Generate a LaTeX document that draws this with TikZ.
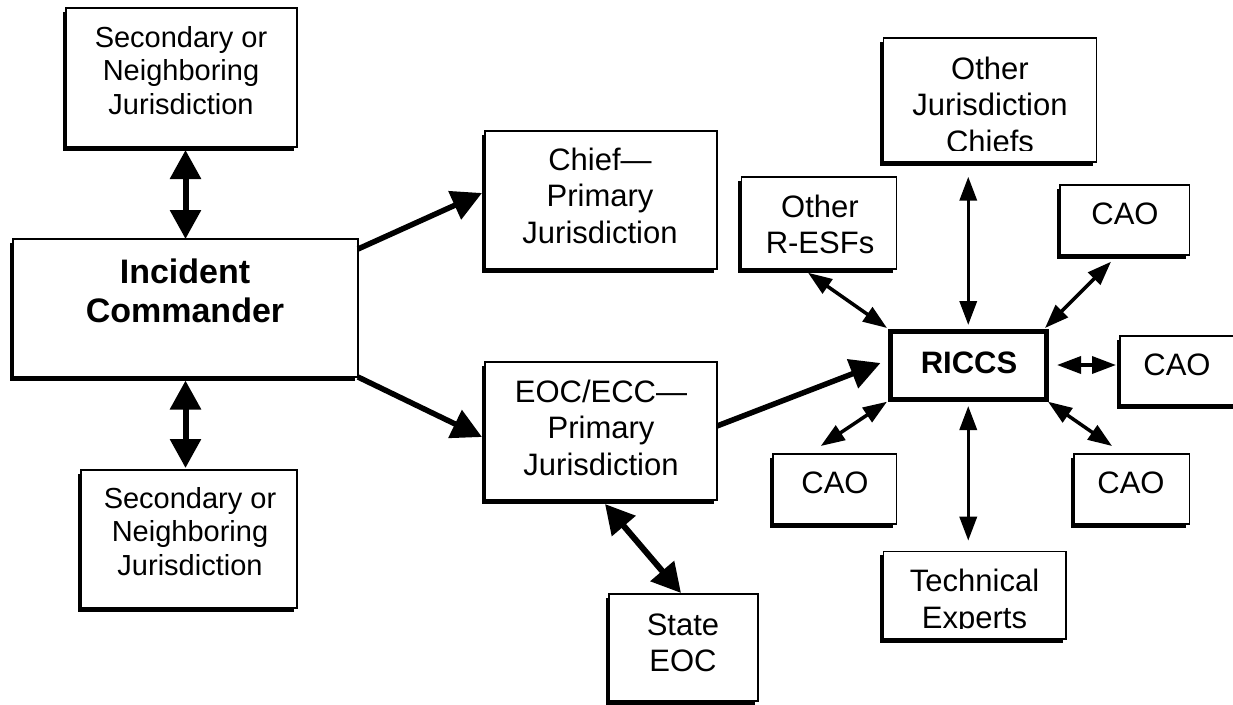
\documentclass[tikz,border=0pt]{standalone}
\usepackage{fontspec}
\setmainfont{Liberation Sans}
\usetikzlibrary{arrows.meta,shadows,calc}
\newcommand{\mlines}[1]{\begin{tabular}[t]{@{}c@{}}#1\end{tabular}}
\begin{document}
\begin{tikzpicture}[x=1pt,y=1pt,
  box/.style={draw=black, line width=1.3pt, fill=white, inner sep=0pt, outer sep=0pt,
    drop shadow={shadow xshift=-3.5pt,shadow yshift=-3.5pt,opacity=1,fill=black}},
  thickbox/.style={draw=black, line width=5pt, fill=white, inner sep=0pt, outer sep=0pt},
  txt/.style={inner sep=0pt, outer sep=0pt, anchor=base},
  fa/.style={font=\fontsize{29}{33.5}\selectfont},
  fb/.style={font=\fontsize{31}{36.7}\selectfont},
  fc/.style={font=\bfseries\fontsize{34}{39}\selectfont},
  fd/.style={font=\bfseries\fontsize{31}{37}\selectfont},
  bigd/.style={line width=6pt, >={Triangle[length=29pt,width=30pt]}, <->},
  bigs/.style={line width=5.5pt, >={Triangle[length=30pt,width=30pt]}, ->},
  sm/.style={line width=3.5pt, >={Triangle[length=24pt,width=17pt]}, <->}
]
\useasboundingbox (0,0) rectangle (1233,-704);
% boxes
\node[box, minimum width=231pt, minimum height=139pt] (secTop) at (181.5,-77.5) {};
\node[box, minimum width=345pt, minimum height=138pt] (ic) at (185.5,-308) {};
\node[box, minimum width=216pt, minimum height=138pt] (secBot) at (189,-539) {};
\node[box, minimum width=232pt, minimum height=138pt] (chief) at (601,-200) {};
\node[box, minimum width=232pt, minimum height=138pt] (eoc) at (601,-431) {};
\node[box, minimum width=149pt, minimum height=107pt] (state) at (683.5,-647.5) {};
\node[box, minimum width=213.5pt, minimum height=124pt] (ojc) at (990,-100) {};
\node[box, minimum width=154.5pt, minimum height=92pt] (resf) at (819,-223) {};
\node[box, minimum width=129.5pt, minimum height=70pt] (cao1) at (1124.75,-220) {};
\node[thickbox, minimum width=155.5pt, minimum height=68pt] (riccs) at (968.25,-365) {};
\node[box, minimum width=118pt, minimum height=69pt] (cao2) at (1179,-370.5) {};
\node[box, minimum width=123.5pt, minimum height=70pt] (cao3) at (834.75,-489) {};
\node[box, minimum width=115.5pt, minimum height=70pt] (cao4) at (1131.75,-489) {};
\node[box, minimum width=182.5pt, minimum height=87.3pt] (tech) at (974.75,-595.35) {};
% texts
\node[txt,fa] (tSecTop) at (181,-47) {\mlines{Secondary or\\Neighboring\\Jurisdiction}};
\node[txt,fc] (tIC) at (185,-283) {\mlines{Incident\\Commander}};
\node[txt,fa] (tSecBot) at (190,-508) {\mlines{Secondary or\\Neighboring\\Jurisdiction}};
\node[txt,fb] (tChief) at (600,-170) {\mlines{Chief—\\Primary\\Jurisdiction}};
\node[txt,fb] (tEOC) at (601,-402) {\mlines{EOC/ECC—\\Primary\\Jurisdiction}};
\node[txt,fb] (tState) at (683,-635) {\mlines{State\\EOC}};
\begin{scope}
  \clip (884,-30) rectangle (1096,-150.5);
  \node[txt,fb] (tOJC) at (990,-79) {\mlines{Other\\Jurisdiction\\Chiefs}};
\end{scope}
\node[txt,fb] (tRESF) at (820,-217) {\mlines{Other\\R-ESFs}};
\node[txt,fb] (tCAO1) at (1125,-224) {CAO};
\node[txt,fd] (tRICCS) at (969,-373) {RICCS};
\node[txt,fb] (tCAO2) at (1177,-375) {CAO};
\node[txt,fb] (tCAO3) at (835,-493) {CAO};
\node[txt,fb] (tCAO4) at (1131,-493) {CAO};
\begin{scope}
  \clip (884,-560) rectangle (1065,-628.8);
  \node[txt,fb] (tTech) at (974.5,-591.7) {\mlines{Technical\\Experts}};
\end{scope}
% connectors
\draw[bigd, shorten <=3pt] (ic.north |- secTop.south) -- (ic.north);
\draw[bigd, shorten <=3.5pt, shorten >=2pt] (ic.south) -- (ic.south |- secBot.north);
\draw[bigs] ([yshift=-10pt]ic.north east) -- ([xshift=-3pt,yshift=7pt]chief.west);
\draw[bigs] (ic.south east) -- ([xshift=-3pt,yshift=-6pt]eoc.west);
\draw[bigs] ([yshift=5pt]eoc.east) -- ([xshift=-10pt,yshift=2pt]riccs.west);
\draw[bigd] ([xshift=4pt,yshift=-4pt]eoc.south) -- ([xshift=-2.5pt,yshift=1pt]state.north);
\draw[sm] ([xshift=-11pt,yshift=-3.7pt]resf.south) -- ([xshift=-3.5pt,yshift=3pt]riccs.north west);
\draw[sm, shorten <=6pt, shorten >=14.7pt] (riccs.north) -- (riccs.north |- ojc.south);
\draw[sm] ([xshift=-13.75pt,yshift=-6.7pt]cao1.south) -- ([xshift=-1pt,yshift=3pt]riccs.north east);
\draw[sm, shorten <=11pt, shorten >=4pt] (riccs.east) -- (riccs.east -| cao2.west);
\draw[sm] ([xshift=-3.5pt,yshift=-2.7pt]riccs.south west) -- ([xshift=-14pt,yshift=8pt]cao3.north);
\draw[sm, shorten <=7pt, shorten >=11pt] (riccs.south) -- (riccs.south |- tech.north);
\draw[sm] ([xshift=2pt,yshift=-2.7pt]riccs.south east) -- ([xshift=-19.75pt,yshift=8pt]cao4.north);
\end{tikzpicture}
\end{document}
